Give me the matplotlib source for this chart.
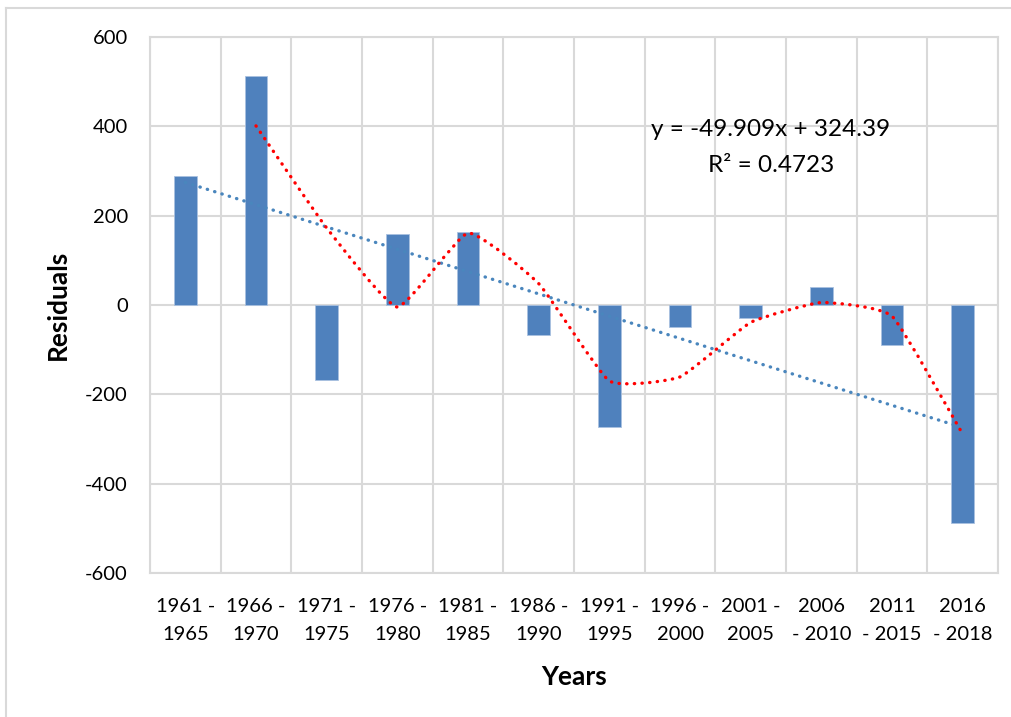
import numpy as np
import pandas as pd
import matplotlib
matplotlib.use("Agg")
import matplotlib.pyplot as plt
from matplotlib.path import Path
from matplotlib.patches import PathPatch
from matplotlib.lines import Line2D

# data
periods = ["1961 -\n1965", "1966 -\n1970", "1971 -\n1975", "1976 -\n1980",
           "1981 -\n1985", "1986 -\n1990", "1991 -\n1995", "1996 -\n2000",
           "2001 -\n2005", "2006\n- 2010", "2011\n- 2015", "2016\n- 2018"]
residuals = [289, 513, -168, 159, 163, -67, -273, -49, -29, 40, -90, -488]
slope = -49.909
intercept = 324.39
r2 = 0.4723

plt.rcParams['font.family'] = ['Lato', 'DejaVu Sans']
plt.rcParams['axes.unicode_minus'] = False

fig = plt.figure(figsize=(10.11, 7.17), dpi=100)
ax = fig.add_axes([150/1011, 1-573/717, 848/1011, 536/717])

x = np.arange(len(residuals))
ax.bar(x, residuals, width=0.32, color='#4f81bd', edgecolor='#a9c1e0', linewidth=0.6, zorder=3)

# linear trendline (x = 1..12 in Excel terms)
trend = slope * (x + 1) + intercept
ax.plot(x, trend, color='#4a86bd', linewidth=2.4, linestyle=(0, (0.1, 2.2)),
        dash_capstyle='round', zorder=4)

# 2-period moving average, lightly smoothed
ma = pd.Series(residuals).rolling(2).mean().dropna().values
mx = x[1:].astype(float)
pts = np.column_stack([mx, ma])
k = 1 / 14
verts = [tuple(pts[0])]
codes = [Path.MOVETO]
for i in range(len(pts) - 1):
    p0 = pts[i - 1] if i > 0 else pts[i]
    p1 = pts[i]
    p2 = pts[i + 1]
    p3 = pts[i + 2] if i + 2 < len(pts) else pts[i + 1]
    c1 = p1 + (p2 - p0) * k
    c2 = p2 - (p3 - p1) * k
    verts += [tuple(c1), tuple(c2), tuple(p2)]
    codes += [Path.CURVE4] * 3
ax.add_patch(PathPatch(Path(verts, codes), fill=False, edgecolor='#ff0000',
                       linewidth=2.4, linestyle=(0, (0.1, 2.2)),
                       capstyle='round', zorder=5))

ax.set_xlim(-0.5, len(residuals) - 0.5)
ax.set_ylim(-600, 600)
ax.set_yticks(range(-600, 601, 200))
ax.set_xticks(x)
ax.set_xticklabels(periods, fontsize=14.5, linespacing=1.8)
ax.set_xticks(np.arange(-0.5, len(residuals)), minor=True)
ax.tick_params(axis='y', labelsize=14.5, length=0, pad=16)
ax.tick_params(axis='x', which='both', length=0, pad=18)
ax.grid(True, axis='y', color='#d9d9d9', linewidth=1.5, zorder=0)
ax.grid(True, axis='x', which='minor', color='#d9d9d9', linewidth=1.5, zorder=0)
ax.grid(False, axis='x', which='major')
for s in ax.spines.values():
    s.set_color('#d9d9d9')
    s.set_linewidth(1.5)

ax.set_ylabel("Residuals", fontsize=19, fontweight='bold', labelpad=11)
ax.set_xlabel("Years", fontsize=19, fontweight='bold', labelpad=16)

ax.text(771/1011, 1-130/717, f"y = {slope}x + {intercept}", transform=fig.transFigure,
        ha='center', va='center', fontsize=17.5)
ax.text(771/1011, 1-166/717, f"R² = {r2}", transform=fig.transFigure,
        ha='center', va='center', fontsize=17.5)

# outer chart border (left and top only visible)
fig.add_artist(Line2D([6/1011, 6/1011], [0, 1-8/717], color='#d9d9d9', linewidth=1.5))
fig.add_artist(Line2D([6/1011, 1], [1-8/717, 1-8/717], color='#d9d9d9', linewidth=1.5))

fig.savefig("out.png", dpi=100)
